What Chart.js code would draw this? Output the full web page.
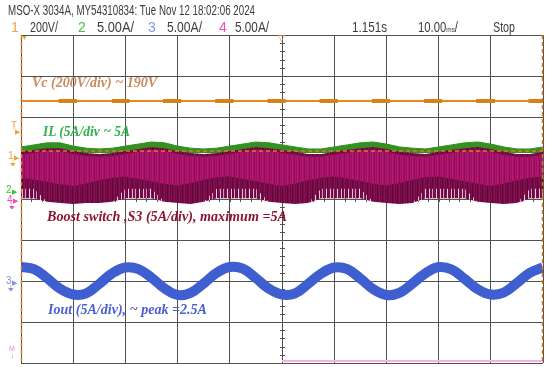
<!DOCTYPE html>
<html>
<head>
<meta charset="utf-8">
<script src="https://cdn.jsdelivr.net/npm/chart.js@4.4.1/dist/chart.umd.min.js"></script>
<style>
  html, body { margin: 0; padding: 0; background: #fff; }
  #wrap { position: relative; width: 550px; height: 367px; overflow: hidden; }
  #scope { position: absolute; left: 0; top: 0; }
  .t { position: absolute; white-space: nowrap; transform-origin: 0 0; line-height: 1; }
  .hdr { font-family: 'Liberation Sans', Arial, sans-serif; color: #3c3c3c; font-size: 14px; }
  .note { font-family: 'Liberation Serif', serif; font-weight: bold; font-style: italic; font-size: 14px; }
  .mk { font-family: 'Liberation Sans', sans-serif; font-size: 10px; }
</style>
</head>
<body>
<div id="wrap">
  <canvas id="scope" width="550" height="367"></canvas>

  <!-- header -->
  <div class="t hdr" style="left:8px;top:3px" data-w="247">MSO-X 3034A, MY54310834: Tue Nov 12 18:02:06 2024</div>
  <div class="t hdr" style="left:11px;top:20px;color:#f2a040">1</div>
  <div class="t hdr" style="left:30px;top:20px" data-w="28">200V/</div>
  <div class="t hdr" style="left:78px;top:20px;color:#45c23a">2</div>
  <div class="t hdr" style="left:97px;top:20px" data-w="37">5.00A/</div>
  <div class="t hdr" style="left:148px;top:20px;color:#7f93ee">3</div>
  <div class="t hdr" style="left:167px;top:20px" data-w="35">5.00A/</div>
  <div class="t hdr" style="left:219px;top:20px;color:#f050b4">4</div>
  <div class="t hdr" style="left:235px;top:20px" data-w="34">5.00A/</div>
  <div class="t hdr" style="left:352px;top:20px" data-w="35">1.151s</div>
  <div class="t hdr" style="left:418px;top:20px" data-w="40">10.00<span style="font-size:8px">ms</span>/</div>
  <div class="t hdr" style="left:493px;top:20px" data-w="22">Stop</div>

  <!-- annotations -->
  <div class="t note" style="left:32px;top:76px;color:#c98a5e" data-w="125">Vc (200V/div) ~ 190V</div>
  <div class="t note" style="left:43px;top:125px;color:#2fb24c" data-w="87">IL (5A/div ~ 5A</div>
  <div class="t note" style="left:47px;top:210px;color:#8e1531" data-w="240">Boost switch ,S3 (5A/div), maximum =5A</div>
  <div class="t note" style="left:48px;top:303px;color:#4b5fd3" data-w="159">Iout (5A/div), ~ peak =2.5A</div>

  <!-- channel markers -->
  <div class="t mk" style="left:11px;top:121px;color:#f2a040">T</div>
  <div class="t mk" style="left:15px;top:128px;color:#f2a040;font-size:7px">&#9654;</div>
  <div class="t mk" style="left:8px;top:151px;color:#f2a040">1</div>
  <div class="t mk" style="left:14px;top:154px;color:#f2a040;font-size:7px">&#9654;</div>
  <div class="t mk" style="left:10px;top:160px;color:#f2a040;font-size:8px">&#9178;</div>
  <div class="t mk" style="left:6px;top:185px;color:#35c435">2</div>
  <div class="t mk" style="left:12px;top:188px;color:#35c435;font-size:7px">&#9654;</div>
  <div class="t mk" style="left:7px;top:195px;color:#f050b4">4</div>
  <div class="t mk" style="left:13px;top:197px;color:#f050b4;font-size:7px">&#9654;</div>
  <div class="t mk" style="left:9px;top:203px;color:#f050b4;font-size:8px">&#9178;</div>
  <div class="t mk" style="left:6px;top:276px;color:#7f93ee">3</div>
  <div class="t mk" style="left:12px;top:279px;color:#7f93ee;font-size:7px">&#9654;</div>
  <div class="t mk" style="left:8px;top:285px;color:#7f93ee;font-size:8px">&#9178;</div>
  <div class="t mk" style="left:9px;top:345px;color:#f07ad0;font-size:7px">M</div>
  <div class="t mk" style="left:10px;top:352px;color:#f07ad0;font-size:8px">&#8595;</div>
  <div class="t mk" style="left:21px;top:34px;color:#f2a040;font-size:7px">&#9660;</div>
  <div class="t mk" style="left:278px;top:34px;color:#f2a040;font-size:9px">&#9661;</div>
</div>

<script>
// time axis in ms (10 ms/div), vertical in screen divisions (0 = centre line)
const tMs = [-50, -47.5, -45, -42.5, -40, -37.5, -35, -32.5, -30, -27.5,
             -25, -22.5, -20, -17.5, -15, -12.5, -10, -7.5, -5, -2.5,
             0, 2.5, 5, 7.5, 10, 12.5, 15, 17.5, 20, 22.5,
             25, 27.5, 30, 32.5, 35, 37.5, 40, 42.5, 45, 47.5, 50];

// Iout, channel 3
const iout = [-1.66, -1.71, -1.93, -2.19, -2.33, -2.30, -2.07, -1.81, -1.67, -1.71,
              -1.92, -2.18, -2.34, -2.29, -2.06, -1.80, -1.66, -1.70, -1.93, -2.19,
              -2.33, -2.30, -2.07, -1.82, -1.67, -1.71, -1.94, -2.20, -2.34, -2.29,
              -2.06, -1.81, -1.66, -1.72, -1.95, -2.20, -2.33, -2.28, -2.05, -1.80, -1.67];

// IL, channel 2 (upper envelope)
const ilTop = [1.27, 1.32, 1.37, 1.37, 1.29, 1.24, 1.22, 1.24, 1.29, 1.34,
               1.39, 1.37, 1.29, 1.24, 1.22, 1.24, 1.29, 1.34, 1.39, 1.37,
               1.32, 1.27, 1.22, 1.22, 1.27, 1.32, 1.37, 1.39, 1.34, 1.27,
               1.24, 1.22, 1.27, 1.32, 1.37, 1.39, 1.34, 1.27, 1.22, 1.22, 1.27];
const ilBase = 1.12;

// S3 switch current, channel 4 (envelopes of the switching band)
const s3Top = [1.15, 1.20, 1.24, 1.24, 1.17, 1.12, 1.10, 1.12, 1.17, 1.22,
               1.27, 1.24, 1.17, 1.12, 1.10, 1.12, 1.17, 1.22, 1.27, 1.24,
               1.20, 1.15, 1.10, 1.10, 1.15, 1.20, 1.24, 1.27, 1.22, 1.15,
               1.12, 1.10, 1.15, 1.20, 1.24, 1.27, 1.22, 1.15, 1.10, 1.10, 1.15];
const s3Bottom = [0.02, 0.02, -0.07, -0.10, -0.12, -0.10, -0.10, -0.07, 0.02, 0.02,
                  0.02, -0.07, -0.10, -0.12, -0.07, 0.02, 0.02, 0.02, 0.02, -0.07,
                  -0.10, -0.12, -0.10, 0.02, 0.02, 0.02, 0.02, -0.07, -0.10, -0.12,
                  -0.10, 0.02, 0.02, 0.02, 0.02, -0.07, -0.10, -0.12, -0.10, 0.02, 0.02];
const s3SpikeTop = [0.25, 0.25, -0.07, -0.10, -0.12, -0.10, -0.10, -0.07, 0.25, 0.25,
                    0.25, -0.07, -0.10, -0.12, -0.07, 0.25, 0.25, 0.25, 0.25, -0.07,
                    -0.10, -0.12, -0.10, 0.25, 0.25, 0.25, 0.25, -0.07, -0.10, -0.12,
                    -0.10, 0.25, 0.25, 0.25, 0.25, -0.07, -0.10, -0.12, -0.10, 0.25, 0.25];
const s3DenseTop = [1.08, 1.13, 1.17, 1.17, 1.10, 1.05, 1.03, 1.05, 1.10, 1.15,
                    1.20, 1.17, 1.10, 1.05, 1.03, 1.05, 1.10, 1.15, 1.20, 1.17,
                    1.13, 1.08, 1.03, 1.03, 1.08, 1.13, 1.17, 1.20, 1.15, 1.08,
                    1.05, 1.03, 1.08, 1.13, 1.17, 1.20, 1.15, 1.08, 1.03, 1.03, 1.08];
const s3DenseBottom = [0.52, 0.47, 0.42, 0.36, 0.32, 0.38, 0.46, 0.52, 0.55, 0.49,
                       0.43, 0.37, 0.33, 0.39, 0.47, 0.53, 0.55, 0.49, 0.43, 0.37,
                       0.32, 0.38, 0.46, 0.52, 0.55, 0.50, 0.44, 0.37, 0.33, 0.39,
                       0.47, 0.53, 0.55, 0.49, 0.43, 0.37, 0.32, 0.38, 0.46, 0.52, 0.55];

// Vc, channel 1: flat level with small ripple patches
const vcLevel = 2.39;
const vcRippleFrom = [-42.8, -32.6, -22.8, -12.8, -2.8, 7.2, 17.2, 27.2, 37.2, 47.2];
const vcRippleTo   = [-39.3, -29.2, -19.3, -9.3, 0.7, 10.7, 20.7, 30.7, 40.8, 50];

// trigger level and math trace
const trigLevel = 1.17;
const mathT = [0, 50];
const mathV = [-3.95, -3.95];

const canvas = document.getElementById('scope');
const ctx = canvas.getContext('2d');

function stripes(colors) {
    const c = document.createElement('canvas');
    c.width = colors.length; c.height = 1;
    const g = c.getContext('2d');
    colors.forEach((col, i) => { g.fillStyle = col; g.fillRect(i, 0, 1, 1); });
    return ctx.createPattern(c, 'repeat');
}

const pts = (ys) => tMs.map((t, i) => ({ x: t, y: ys[i] }));

const vcRipple = [];
vcRippleFrom.forEach((f, i) => {
    vcRipple.push({ x: f, y: vcLevel }, { x: vcRippleTo[i], y: vcLevel }, { x: vcRippleTo[i], y: null });
});

const clear = 'rgba(0,0,0,0)';

// minor ticks on the centre axes, orange edge markers
const scopeMarks = {
    id: 'scopeMarks',
    beforeDatasetsDraw(chart) {
        const { ctx, scales } = chart;
        const cx = scales.x.getPixelForValue(0);
        const cy = scales.y.getPixelForValue(0);
        ctx.save();
        ctx.strokeStyle = '#555';
        ctx.lineWidth = 1;
        ctx.beginPath();
        for (let v = -4; v <= 4; v += 0.2) {
            const y = Math.round(scales.y.getPixelForValue(v)) + 0.5;
            ctx.moveTo(cx - 2, y); ctx.lineTo(cx + 3, y);
        }
        for (let t = -50; t <= 50; t += 2) {
            const x = Math.round(scales.x.getPixelForValue(t)) + 0.5;
            ctx.moveTo(x, cy - 2); ctx.lineTo(x, cy + 3);
        }
        ctx.stroke();
        ctx.restore();
    },
    afterDatasetsDraw(chart) {
        const { ctx, chartArea } = chart;
        ctx.save();
        ctx.strokeStyle = '#d27a22';
        ctx.lineWidth = 1.5;
        ctx.setLineDash([4, 3]);
        ctx.beginPath();
        ctx.moveTo(chartArea.left + 0.5, chartArea.top);
        ctx.lineTo(chartArea.left + 0.5, chartArea.bottom);
        ctx.moveTo(chartArea.right - 0.5, chartArea.top);
        ctx.lineTo(chartArea.right - 0.5, chartArea.bottom);
        ctx.stroke();
        ctx.restore();
    }
};

new Chart(ctx, {
    type: 'line',
    data: {
        datasets: [
            // 0,1: IL band
            { data: tMs.map(t => ({ x: t, y: ilBase })), borderWidth: 0, order: 20 },
            { data: pts(ilTop), borderColor: '#2f8f1f', borderWidth: 1, backgroundColor: '#33921f', fill: { target: 0 }, order: 19 },
            // 2,3: S3 outer band
            { data: pts(s3Bottom), borderWidth: 0, order: 18 },
            { data: pts(s3Top), borderWidth: 0, backgroundColor: stripes(['#6c0a42', '#800f4e', '#5e0638', '#760c48', '#8a1254']), fill: { target: 2 }, order: 17 },
            // 4: light spikes at the off level
            { data: pts(s3SpikeTop), borderWidth: 0, backgroundColor: stripes(['#ecbcdc', clear, clear, '#d99ac4', clear, clear, clear, '#f3d2e8', clear, clear, clear]), fill: { target: 2 }, order: 16 },
            // 5,6: S3 dense part
            { data: pts(s3DenseBottom), borderWidth: 0, order: 15 },
            { data: pts(s3DenseTop), borderWidth: 0, backgroundColor: stripes(['#b0166e', '#9c0f62', '#b81a74', '#a41266', '#8c0c58']), fill: { target: 5 }, order: 14 },
            // trigger level
            { data: [{ x: -50, y: trigLevel }, { x: 50, y: trigLevel }], borderColor: '#e07a20', borderWidth: 1.5, borderDash: [4, 3], order: 10 },
            // Vc
            { data: [{ x: -50, y: vcLevel }, { x: 50, y: vcLevel }], borderColor: '#e68a1e', borderWidth: 2, order: 9 },
            { data: vcRipple, borderColor: '#d68219', borderWidth: 4, spanGaps: false, order: 8 },
            // Iout
            { data: pts(iout), borderColor: '#3f5fd0', borderWidth: 10, tension: 0.4, order: 5 },
            // math
            { data: mathT.map((t, i) => ({ x: t, y: mathV[i] })), borderColor: '#f3b4ee', borderWidth: 2, order: 4 }
        ]
    },
    options: {
        responsive: false,
        animation: false,
        events: [],
        layout: { autoPadding: false, padding: { left: 21, right: 7, top: 35, bottom: 4 } },
        plugins: { legend: { display: false }, tooltip: { enabled: false } },
        elements: { point: { radius: 0 }, line: { tension: 0, borderCapStyle: 'butt' } },
        scales: {
            x: {
                type: 'linear', min: -50, max: 50,
                ticks: { display: false, stepSize: 10 },
                grid: { color: '#505050', drawTicks: false },
                border: { display: false }
            },
            y: {
                type: 'linear', min: -4, max: 4,
                ticks: { display: false, stepSize: 1 },
                grid: { color: '#505050', drawTicks: false },
                border: { display: false }
            }
        }
    },
    plugins: [scopeMarks]
});

// squeeze text to the widths seen on the screen capture
document.querySelectorAll('[data-w]').forEach(el => {
    const w = el.getBoundingClientRect().width;
    el.style.transform = `scaleX(${el.dataset.w / w})`;
});
</script>
</body>
</html>
